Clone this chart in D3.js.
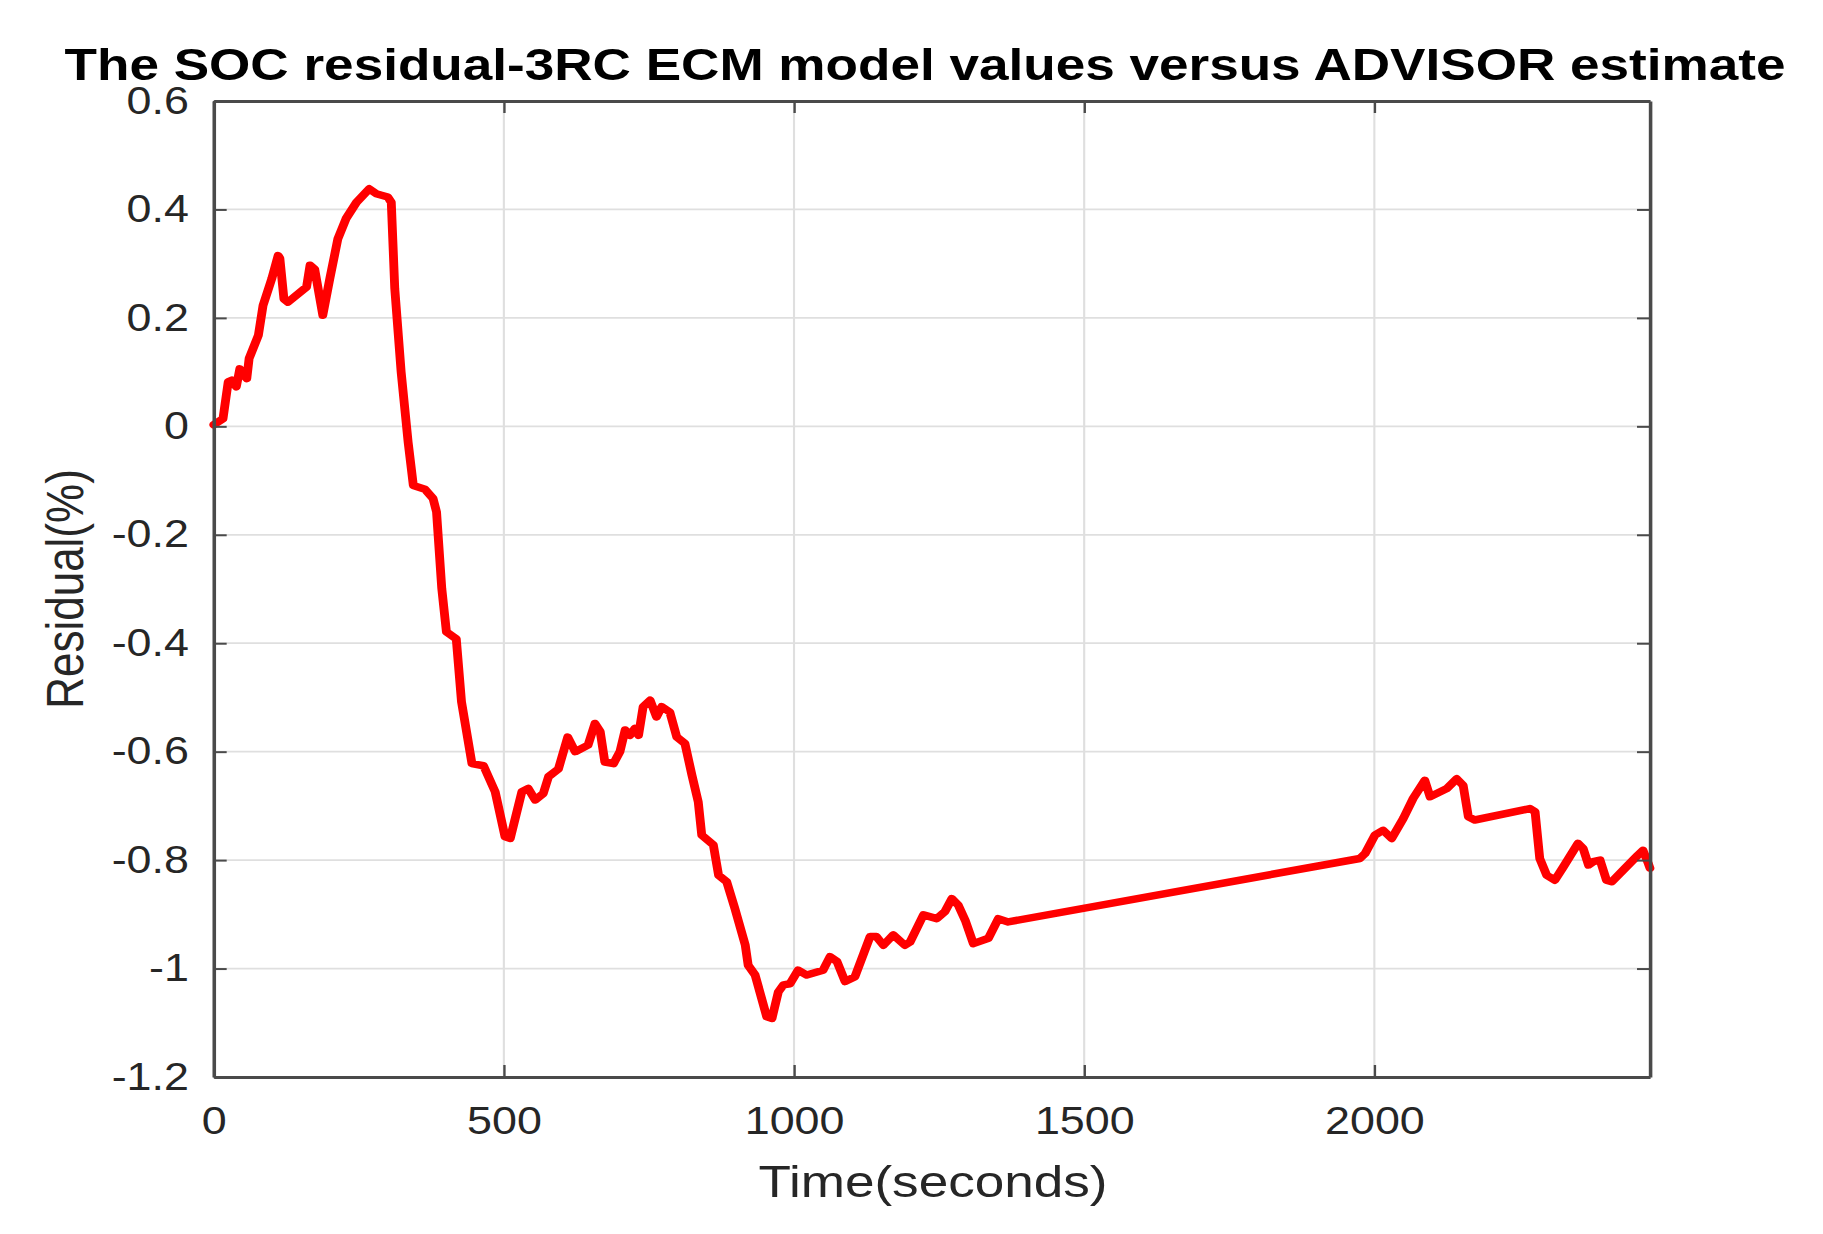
<!DOCTYPE html>
<html>
<head>
<meta charset="utf-8">
<script src="https://cdn.jsdelivr.net/npm/d3@7"></script>
<style>
  body { margin: 0; background: #fff; }
  text { font-family: "Liberation Sans", Arial, sans-serif; }
</style>
</head>
<body>
<div id="chart"></div>
<script>
// SOC residual readings (time in seconds, residual in %)
const timeSec = [0, 16, 25, 31, 39, 45, 51, 57, 61, 77, 85, 100, 111, 114, 121, 128, 160, 166, 174, 188,
  200, 214, 228, 246, 268, 280, 300, 306, 312, 323, 335, 344, 364, 378, 384, 393, 401, 418, 427, 445,
  465, 485, 502, 511, 531, 542, 554, 568, 577, 594, 610, 623, 645, 657, 666, 674, 689, 700, 709, 717,
  726, 732, 740, 752, 763, 772, 786, 798, 812, 824, 835, 841, 861, 870, 884, 898, 916, 921, 933, 953,
  962, 973, 982, 993, 1007, 1022, 1050, 1062, 1074, 1088, 1105, 1131, 1142, 1154, 1171, 1191, 1200, 1223, 1246, 1260,
  1272, 1283, 1295, 1309, 1335, 1352, 1369, 1975, 1984, 2001, 2015, 2030, 2050, 2067, 2087, 2096, 2125, 2142, 2153, 2162,
  2173, 2268, 2277, 2285, 2297, 2311, 2326, 2351, 2360, 2369, 2377, 2389, 2400, 2409, 2432, 2454, 2463, 2472, 2475];
const residual = [0.003, 0.014, 0.082, 0.085, 0.073, 0.106, 0.097, 0.088, 0.125, 0.168, 0.223, 0.272, 0.315, 0.31, 0.235, 0.229, 0.257, 0.297, 0.29, 0.205,
  0.272, 0.346, 0.383, 0.413, 0.438, 0.429, 0.423, 0.413, 0.254, 0.1, -0.029, -0.109, -0.116, -0.133, -0.158, -0.299, -0.379, -0.392, -0.508, -0.622,
  -0.626, -0.674, -0.757, -0.76, -0.674, -0.668, -0.689, -0.677, -0.646, -0.632, -0.573, -0.6, -0.588, -0.548, -0.563, -0.619, -0.622, -0.6, -0.56, -0.57,
  -0.557, -0.57, -0.517, -0.505, -0.536, -0.517, -0.527, -0.573, -0.585, -0.643, -0.693, -0.754, -0.772, -0.828, -0.84, -0.889, -0.957, -0.994, -1.012, -1.089,
  -1.092, -1.043, -1.03, -1.028, -1.003, -1.012, -1.003, -0.978, -0.987, -1.024, -1.015, -0.941, -0.941, -0.957, -0.938, -0.957, -0.951, -0.901, -0.908, -0.895,
  -0.871, -0.883, -0.911, -0.954, -0.944, -0.908, -0.914, -0.797, -0.788, -0.754, -0.745, -0.76, -0.723, -0.686, -0.653, -0.683, -0.668, -0.65, -0.662, -0.72,
  -0.726, -0.705, -0.711, -0.797, -0.828, -0.837, -0.812, -0.769, -0.779, -0.809, -0.803, -0.8, -0.837, -0.84, -0.815, -0.791, -0.782, -0.806, -0.815];

const xTicks = [0, 500, 1000, 1500, 2000];
const yTicks = [-1.2, -1, -0.8, -0.6, -0.4, -0.2, 0, 0.2, 0.4, 0.6];
const xDomain = [0, 2475];
const yDomain = [-1.2, 0.6];

const titleText = 'The SOC residual-3RC ECM model values versus ADVISOR estimate';
const xLabel = 'Time(seconds)';
const yLabel = 'Residual(%)';

const width = 1823;
const height = 1234;
// the original figure is stretched sideways, so everything is drawn in a squeezed frame
const sx = 1.18;

const plotLeft = 213.7, plotRight = 1650, plotTop = 101, plotBottom = 1077;

const svg = d3.select('#chart')
  .append('svg')
  .attr('width', width)
  .attr('height', height);

const g = svg.append('g')
  .attr('transform', `scale(${sx},1)`);

const x = d3.scaleLinear()
  .domain(xDomain)
  .range([plotLeft / sx, plotRight / sx]);

const y = d3.scaleLinear()
  .domain(yDomain)
  .range([plotBottom, plotTop]);

// grid lines
g.append('g').selectAll('line')
  .data(xTicks)
  .join('line')
  .attr('x1', d => x(d)).attr('x2', d => x(d))
  .attr('y1', plotTop).attr('y2', plotBottom)
  .attr('stroke', '#dfdfdf')
  .attr('stroke-width', 1.8);

g.append('g').selectAll('line')
  .data(yTicks)
  .join('line')
  .attr('x1', plotLeft / sx).attr('x2', plotRight / sx)
  .attr('y1', d => y(d)).attr('y2', d => y(d))
  .attr('stroke', '#dfdfdf')
  .attr('stroke-width', 1.8);

// the data line
const line = d3.line()
  .x((d, i) => x(timeSec[i]))
  .y(d => y(d));

g.append('path')
  .datum(residual)
  .attr('d', line)
  .attr('fill', 'none')
  .attr('stroke', '#ff0000')
  .attr('stroke-width', 7.5)
  .attr('stroke-linejoin', 'round')
  .attr('stroke-linecap', 'round');

// axes, ticks pointing inside the box
const axisColor = '#4a4a4a';

function styleAxis(sel) {
  sel.select('.domain').attr('stroke', axisColor).attr('stroke-width', 3);
  sel.selectAll('.tick line').attr('stroke', axisColor).attr('stroke-width', 2);
  sel.selectAll('.tick text')
    .attr('fill', '#262626')
    .style('font-size', '38px');
}

g.append('g')
  .attr('transform', `translate(0,${plotBottom})`)
  .call(d3.axisBottom(x).tickValues(xTicks).tickSizeInner(-12).tickSizeOuter(0).tickPadding(30)
    .tickFormat(d3.format('d')))
  .call(styleAxis);

g.append('g')
  .attr('transform', `translate(0,${plotTop})`)
  .call(d3.axisTop(x).tickValues(xTicks).tickSizeInner(-12).tickSizeOuter(0).tickFormat(''))
  .call(styleAxis);

g.append('g')
  .attr('transform', `translate(${plotLeft / sx},0)`)
  .call(d3.axisLeft(y).tickValues(yTicks).tickSizeInner(-11).tickSizeOuter(0).tickPadding(21)
    .tickFormat(d => d3.format('')(+d.toFixed(1)).replace('−', '-')))
  .call(styleAxis);

g.append('g')
  .attr('transform', `translate(${plotRight / sx},0)`)
  .call(d3.axisRight(y).tickValues(yTicks).tickSizeInner(-11).tickSizeOuter(0).tickFormat(''))
  .call(styleAxis);

// title and axis labels
g.append('text')
  .attr('x', 925 / sx)
  .attr('y', 80)
  .attr('text-anchor', 'middle')
  .style('font-size', '45px')
  .style('font-weight', 'bold')
  .attr('fill', '#000')
  .text(titleText);

g.append('text')
  .attr('x', 933 / sx)
  .attr('y', 1197)
  .attr('text-anchor', 'middle')
  .style('font-size', '45px')
  .attr('fill', '#262626')
  .text(xLabel);

g.append('text')
  .attr('transform', `translate(${83 / sx},589) rotate(-90)`)
  .attr('text-anchor', 'middle')
  .style('font-size', '44px')
  .attr('fill', '#262626')
  .text(yLabel);
</script>
</body>
</html>
